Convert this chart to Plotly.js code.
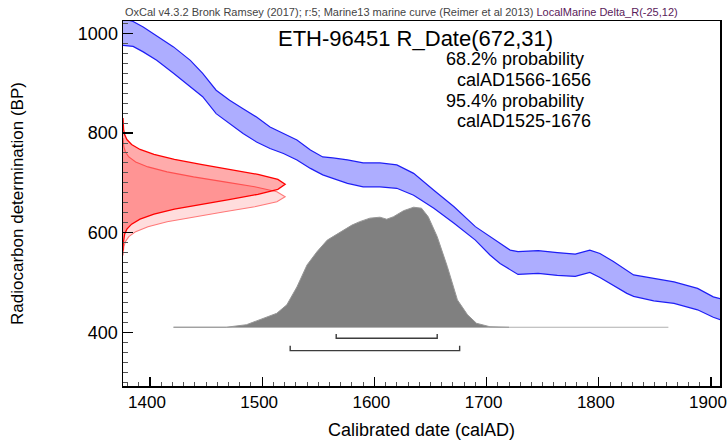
<!DOCTYPE html>
<html>
<head>
<meta charset="utf-8">
<script src="https://cdn.plot.ly/plotly-3.0.1.min.js"></script>
<style>html,body{margin:0;padding:0;background:#fff;}#chart{width:728px;height:440px;}</style>
</head>
<body>
<div id="chart"></div>
<script>
// Calibration curve (Marine13 + Delta_R), 1-sigma band, BP
const curveYear  = [1376, 1385, 1394, 1406, 1421, 1436, 1447, 1459, 1471, 1483, 1495, 1507, 1519, 1531, 1543, 1554, 1563, 1576, 1590, 1605, 1620, 1635, 1653, 1671, 1690, 1703, 1712, 1721, 1728, 1746, 1763, 1779, 1792, 1801, 1813, 1825, 1831, 1849, 1867, 1888, 1902, 1910];
const curveUpper = [1030, 1024, 1013, 996, 973, 946, 920, 886, 866, 849, 832, 812, 799, 786, 766, 752, 750, 746, 740, 740, 736, 719, 685, 652, 612, 592, 578, 565, 562, 564, 560, 557, 565, 558, 542, 525, 515, 508, 501, 488, 471, 466];
const curveLower = [976, 974, 963, 946, 920, 893, 873, 839, 819, 799, 782, 769, 759, 746, 729, 716, 709, 699, 692, 692, 689, 675, 649, 619, 585, 555, 538, 525, 516, 518, 514, 512, 520, 510, 494, 478, 472, 463, 458, 445, 430, 424];

// Radiocarbon date distribution, reservoir-corrected (dark red)
const corrBP   = [830, 817, 807, 797, 787, 777, 767, 757, 747, 737, 727, 717, 707, 697, 687, 677, 667, 657, 647, 637, 627, 617, 607, 597, 587, 577, 564];
const corrProb = [0, 0.0013, 0.0039, 0.010, 0.024, 0.053, 0.105, 0.191, 0.317, 0.480, 0.662, 0.832, 0.955, 1, 0.955, 0.832, 0.662, 0.480, 0.317, 0.191, 0.105, 0.053, 0.024, 0.010, 0.0039, 0.0013, 0];

// Measured radiocarbon date R_Date(672,31) (light red)
const measBP   = [790, 782, 772, 762, 752, 742, 732, 722, 712, 702, 692, 682, 672, 662, 652, 642, 632, 622, 612, 602, 592, 582, 572, 562, 554];
const measProb = [0, 0.002, 0.0055, 0.015, 0.036, 0.078, 0.154, 0.272, 0.435, 0.626, 0.812, 0.949, 1, 0.949, 0.812, 0.626, 0.435, 0.272, 0.154, 0.078, 0.036, 0.015, 0.0055, 0.002, 0];

// Calibrated date distribution (grey)
const calYear = [1421, 1468, 1486, 1498, 1513, 1522, 1531, 1540, 1549, 1558, 1565, 1572, 1580, 1587, 1596, 1605, 1611, 1617, 1626, 1635, 1642, 1648, 1656, 1665, 1674, 1683, 1691, 1703, 1720];
const calProb = [0, 0, 0.021, 0.062, 0.116, 0.187, 0.336, 0.519, 0.631, 0.726, 0.768, 0.809, 0.851, 0.880, 0.909, 0.917, 0.900, 0.921, 0.971, 1, 0.992, 0.921, 0.755, 0.506, 0.228, 0.104, 0.033, 0.004, 0];
const calSpan = [1421, 1862];

// Highest probability ranges
const range68 = [1566, 1656];
const range95 = [1525, 1676];

const xTicks = [1400, 1500, 1600, 1700, 1800, 1900];
const yTicks = [400, 600, 800, 1000];

// ---- drawing (layout constants) ----
const X0 = 1376, X1 = 1908, Y0 = 292, Y1 = 1025;
const redWidth = 144.5;      // years at peak
const calBase = 410, calHeight = 241;
const FONT = '"Liberation Sans", Arial, sans-serif';

function polyX(prob){ return prob.map(p => X0 + p*redWidth); }
function bar(r, yLow, yHigh){ return {x:[r[0], r[0], r[1], r[1]], y:[yHigh, yLow, yLow, yHigh]}; }

const b68 = bar(range68, 388, 396.5);
const b95 = bar(range95, 363, 373);

const traces = [
  {x: curveYear, y: curveLower, mode:'lines', line:{color:'rgb(30,30,245)', width:1.2}, hoverinfo:'skip'},
  {x: curveYear, y: curveUpper, mode:'lines', fill:'tonexty', fillcolor:'rgba(0,0,255,0.32)', line:{color:'rgb(30,30,245)', width:1.2}, hoverinfo:'skip'},
  {x: polyX(measProb), y: measBP, mode:'lines', fill:'toself', fillcolor:'rgba(255,0,0,0.135)', line:{color:'rgb(255,120,120)', width:1.1}, hoverinfo:'skip'},
  {x: polyX(corrProb), y: corrBP, mode:'lines', fill:'toself', fillcolor:'rgba(255,0,0,0.33)', line:{color:'rgb(255,0,0)', width:1.3}, hoverinfo:'skip'},
  {x: calSpan, y: [calBase, calBase], mode:'lines', line:{color:'rgb(175,175,175)', width:1.2}, hoverinfo:'skip'},
  {x: calYear, y: calProb.map(p => calBase + p*calHeight), mode:'lines', fill:'toself', fillcolor:'rgb(128,128,128)', line:{color:'rgb(150,150,150)', width:1}, hoverinfo:'skip'},
  {x: b95.x, y: b95.y, mode:'lines', line:{color:'rgb(60,60,60)', width:1.4}, hoverinfo:'skip'},
  {x: b68.x, y: b68.y, mode:'lines', line:{color:'rgb(60,60,60)', width:1.4}, hoverinfo:'skip'}
];

const layout = {
  width: 728, height: 440,
  margin: {l:123, r:8, t:21, b:54},
  paper_bgcolor:'#fff', plot_bgcolor:'#fff',
  showlegend:false,
  font:{family:FONT, color:'#000'},
  xaxis:{
    range:[X0, X1], tickvals:xTicks, ticktext:xTicks.map(String),
    ticks:'inside', ticklen:9, tickwidth:1.2, tickcolor:'#000',
    minor:{dtick:10, tick0:1400, ticks:'inside', ticklen:4, tickwidth:1, tickcolor:'#555'},
    showline:true, mirror:true, linecolor:'#000', linewidth:1.5,
    showgrid:false, zeroline:false,
    ticklabeloverflow:'allow', ticklabelshift:-3,
    tickfont:{size:17, family:FONT, color:'#000'},
    title:{text:'Calibrated date (calAD)', font:{size:18, family:FONT, color:'#000'}, standoff:14},
    automargin:false
  },
  yaxis:{
    range:[Y0, Y1], tickvals:yTicks, ticktext:yTicks.map(String),
    ticks:'inside', ticklen:10, tickwidth:1.2, tickcolor:'#000',
    minor:{dtick:20, tick0:400, ticks:'inside', ticklen:5, tickwidth:1, tickcolor:'#555'},
    showline:true, mirror:true, linecolor:'#000', linewidth:1.5,
    showgrid:false, zeroline:false,
    tickfont:{size:18, family:FONT, color:'#000'},
    title:{text:'Radiocarbon determination (BP)', font:{size:17, family:FONT, color:'#000'}, standoff:50},
    automargin:false
  },
  annotations:[
    {xref:'paper', yref:'paper', x:0.0, y:1, xanchor:'left', yanchor:'bottom', yshift:1, showarrow:false,
     text:'OxCal v4.3.2 Bronk Ramsey (2017); r:5; Marine13 marine curve (Reimer et al 2013) <span style="color:#5a1a5a">LocalMarine Delta_R(-25,12)</span>',
     font:{size:11, family:FONT, color:'#444'}},
    {xref:'paper', yref:'paper', x:(415-123)/597, y:(386-38)/365, xanchor:'center', yanchor:'middle', showarrow:false,
     text:'ETH-96451 R_Date(672,31)', font:{size:22, family:FONT, color:'#000'}},
    {xref:'paper', yref:'paper', x:(444-123)/597, y:(386-59)/365, xanchor:'left', yanchor:'middle', showarrow:false,
     text:'68.2% probability', font:{size:18, family:FONT, color:'#000'}},
    {xref:'paper', yref:'paper', x:(455-123)/597, y:(386-80)/365, xanchor:'left', yanchor:'middle', showarrow:false,
     text:'calAD' + range68[0] + '-' + range68[1], font:{size:18, family:FONT, color:'#000'}},
    {xref:'paper', yref:'paper', x:(444-123)/597, y:(386-101)/365, xanchor:'left', yanchor:'middle', showarrow:false,
     text:'95.4% probability', font:{size:18, family:FONT, color:'#000'}},
    {xref:'paper', yref:'paper', x:(455-123)/597, y:(386-121)/365, xanchor:'left', yanchor:'middle', showarrow:false,
     text:'calAD' + range95[0] + '-' + range95[1], font:{size:18, family:FONT, color:'#000'}}
  ]
};

Plotly.newPlot('chart', traces, layout, {displayModeBar:false, staticPlot:true});
</script>
</body>
</html>
